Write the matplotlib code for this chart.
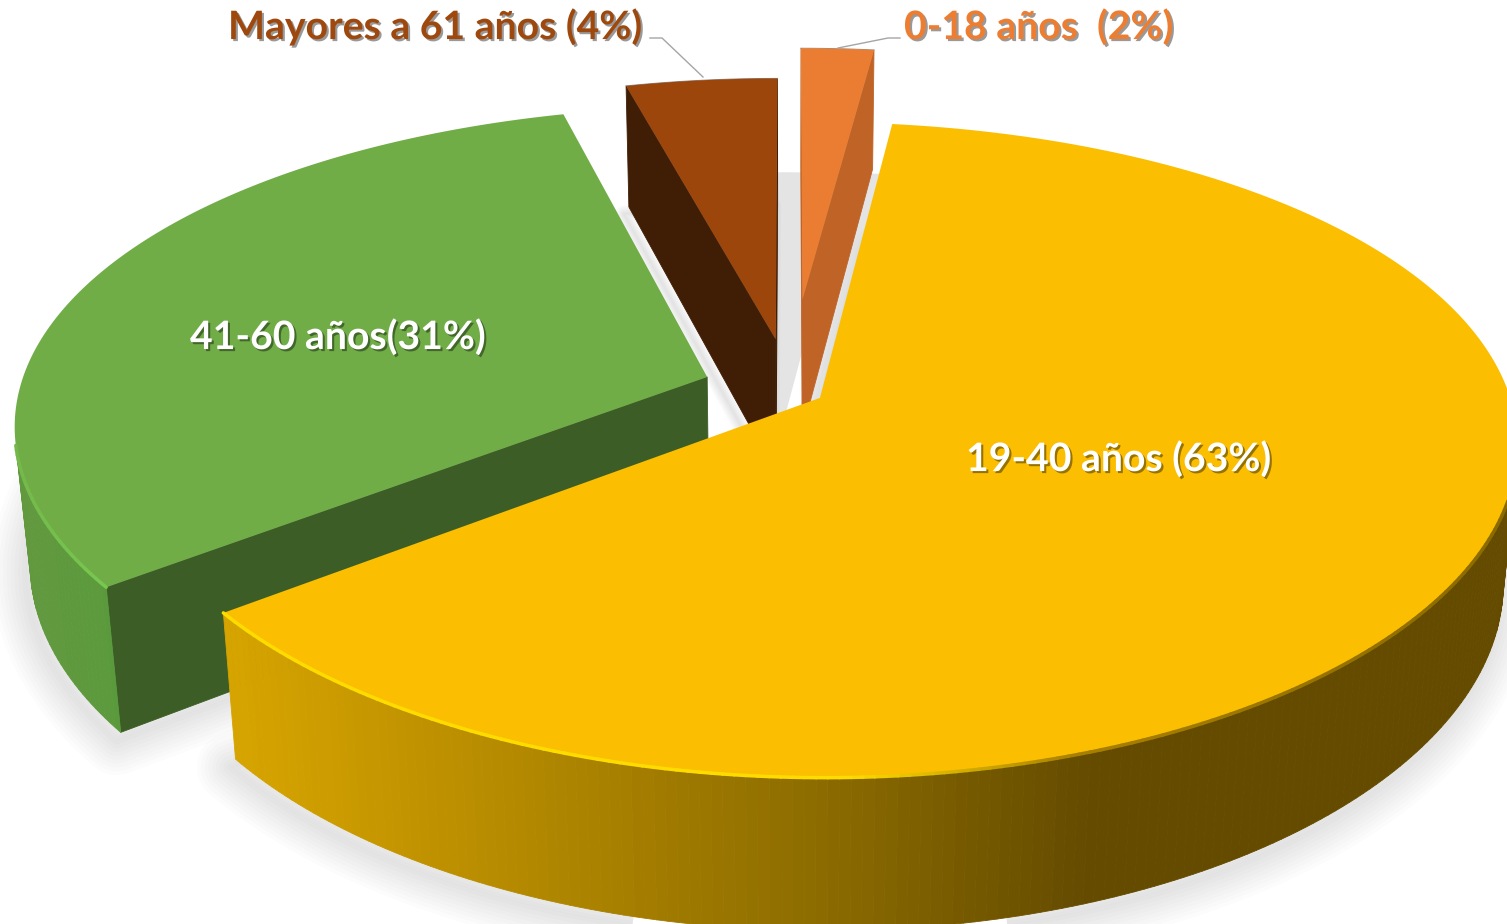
import numpy as np
import matplotlib
matplotlib.use("Agg")
from matplotlib import pyplot as plt
from matplotlib.collections import PolyCollection, LineCollection
from matplotlib.colors import to_rgb
from matplotlib.patches import Polygon
import matplotlib.patheffects as pe

# datos
grupos = ["0-18 años", "19-40 años", "41-60 años", "Mayores a 61 años"]
valores = [2.0, 62.6, 31.3, 4.1]
etiquetas = ["0-18 años  (2%)", "19-40 años (63%)", "41-60 años(31%)", "Mayores a 61 años (4%)"]

# estilo de cada porcion
explosion = [0.30, 0.05, 0.128, 0.165]
top_col = ["#EA7D31", "#FBBE00", "#70AD47", "#9C460C"]
text_col = ["#ED7D31", "white", "white", "#9E480E"]
side_col = ["#C06327", "#FBBE00", "#3C5E26", "#401E05"]
wall_stops = [
    [(800, "#C06327"), (900, "#C06327")],
    [(235, "#D6A400"), (420, "#C09200"), (800, "#8F6E00"), (1090, "#644B00"), (1510, "#644B00")],
    [(20, "#62993F"), (120, "#5A9A3C")],
    [(620, "#401E05"), (780, "#401E05")],
]
rim_stops = [
    [(800, "#EA7D31"), (900, "#EA7D31")],
    [(225, "#FFDC00"), (850, "#FFDC00"), (1080, "#A88000"), (1510, "#8A6A00")],
    [(15, "#74B84A"), (110, "#78C850")],
    [(620, "#9C460C"), (780, "#9C460C")],
]

# camara
cx, cy = 790, 390
S, St = 688, 317
k, kx = 0.158, 0.14
Hs, dw = 139, 0.02


def project(X, Y, dz=0.0):
    X, Y = np.asarray(X), np.asarray(Y)
    w = 1 + k * Y + dw * dz
    wx = 1 + kx * Y + dw * dz
    return cx + S * X / wx, cy + (-St * Y + Hs * dz) / w


def stops_color(stops, x):
    xs = [s[0] for s in stops]
    rgb = np.array([to_rgb(s[1]) for s in stops])
    return [np.interp(x, xs, rgb[:, i]) for i in range(3)]


def area(q):
    q = np.asarray(q)
    return np.sum(q[:, 0] * np.roll(q[:, 1], -1) - np.roll(q[:, 0], -1) * q[:, 1])


def shadow(ax, poly, dx, dy, blur, alpha=0.012, n=10):
    p = poly + np.array([dx, dy])
    for lw in np.linspace(blur, 0.5, n):
        ax.add_patch(Polygon(p, closed=True, facecolor="none", edgecolor="black",
                             lw=lw, alpha=alpha, zorder=1, joinstyle="round"))


def flat_shadow(ax, poly, dx, dy):
    ax.add_patch(Polygon(poly + np.array([dx, dy]), closed=True, facecolor="#E4E4E4",
                         edgecolor="#E4E4E4", lw=1.5, zorder=0.5))


fig = plt.figure(figsize=(15.07, 9.24), dpi=100)
ax = fig.add_axes([0, 0, 1, 1])
ax.set_xlim(0, 1507)
ax.set_ylim(924, 0)
ax.axis("off")

fracs = np.array(valores) / sum(valores) * 360
ini = np.concatenate(([0], np.cumsum(fracs)[:-1]))
mid = ini + fracs / 2

# orden de pintado: atras hacia adelante
orden = [0, 3, 2, 1]
for i in orden:
    th = np.radians(np.linspace(ini[i], ini[i] + fracs[i], max(int(fracs[i] * 1.2), 8)))
    ox = explosion[i] * np.sin(np.radians(mid[i]))
    oy = explosion[i] * np.cos(np.radians(mid[i]))
    X = np.concatenate(([ox], ox + np.sin(th)))
    Y = np.concatenate(([oy], oy + np.cos(th)))
    ut, vt = project(X, Y, 0)
    ub, vb = project(X, Y, 1)
    top = np.column_stack((ut, vt))
    bot = np.column_stack((ub, vb))

    # sombras
    if i == 0:
        flat_shadow(ax, bot, -24, 6)
        flat_shadow(ax, bot, 10, 6)
    elif i == 3:
        shadow(ax, bot, -5, 7, 12, alpha=0.02, n=6)
    else:
        shadow(ax, bot, -4, 8, 50)

    # caras laterales visibles
    quads, cols = [], []
    n = len(top)
    for j in range(n):
        a, b = j, (j + 1) % n
        q = [top[a], top[b], bot[b], bot[a]]
        if area(q) >= 0:
            continue
        quads.append(q)
        if a == 0 or b == 0:
            cols.append(side_col[i])
        else:
            cols.append(stops_color(wall_stops[i], (top[a, 0] + top[b, 0]) / 2))
    ax.add_collection(PolyCollection(quads, facecolors=cols, edgecolors=cols, lw=0.6, zorder=3 + orden.index(i)))

    # cara superior
    ax.add_patch(Polygon(top, closed=True, facecolor=top_col[i], edgecolor="none", zorder=3.5 + orden.index(i)))

    # borde claro sobre el arco frontal
    segs, rc = [], []
    for j in range(1, n - 1):
        if area([top[j], top[j + 1], bot[j + 1], bot[j]]) < 0:
            segs.append([top[j], top[j + 1]])
            rc.append(stops_color(rim_stops[i], top[j, 0]))
    if segs:
        ax.add_collection(LineCollection(segs, colors=rc, lw=2.5, zorder=3.6 + orden.index(i), capstyle="round"))

    # contorno fino en las porciones separadas
    if i in (0, 3):
        ax.plot(top[1:, 0], top[1:, 1], color="#8C8C8C", lw=0.7, zorder=3.2 + orden.index(i))

# lineas guia
ax.plot([650, 662, 703], [38, 38, 77], color="#A5A5A5", lw=1, zorder=12)
ax.plot([838, 888, 900], [48, 38, 38], color="#A5A5A5", lw=1, zorder=12)

# textos
txt_pos = [(904, 27), (966, 459), (190, 337), (228, 27)]
for i in range(4):
    ax.text(txt_pos[i][0], txt_pos[i][1], etiquetas[i], color=text_col[i], fontsize=28.2, fontweight="bold",
            family=["Lato", "DejaVu Sans"], ha="left", va="center", zorder=20,
            path_effects=[pe.withSimplePatchShadow(offset=(1.5, -1.5), shadow_rgbFace="black", alpha=0.4)])

fig.savefig("out.png", dpi=100, facecolor="white")
